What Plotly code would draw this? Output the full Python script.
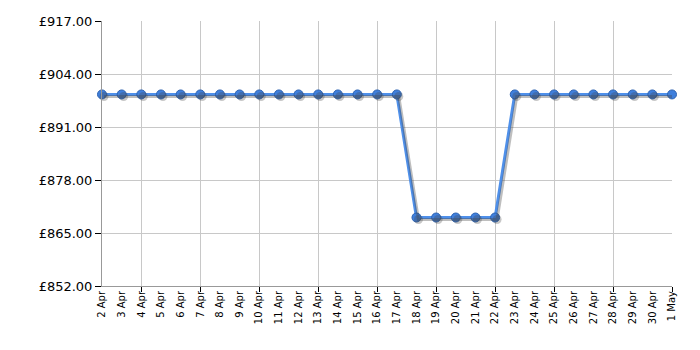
import plotly.graph_objects as go

dates = ["2 Apr", "3 Apr", "4 Apr", "5 Apr", "6 Apr", "7 Apr", "8 Apr", "9 Apr", "10 Apr",
         "11 Apr", "12 Apr", "13 Apr", "14 Apr", "15 Apr", "16 Apr", "17 Apr", "18 Apr",
         "19 Apr", "20 Apr", "21 Apr", "22 Apr", "23 Apr", "24 Apr", "25 Apr", "26 Apr",
         "27 Apr", "28 Apr", "29 Apr", "30 Apr", "1 May"]
prices = [898.99] * 16 + [868.80] * 5 + [898.99] * 9
y_ticks = [852, 865, 878, 891, 904, 917]

idx = list(range(len(dates)))
grid_idx = idx[2::3]

fig = go.Figure()
# shadow
fig.add_trace(go.Scatter(
    x=[i + 0.1 for i in idx], y=[p - 0.5 for p in prices], mode="lines+markers",
    line=dict(color="rgba(70,70,70,0.35)", width=3),
    marker=dict(size=9, color="rgba(70,70,70,0.3)"),
    hoverinfo="skip", cliponaxis=False, showlegend=False, xaxis="x2"))
fig.add_trace(go.Scatter(
    x=idx, y=prices, mode="lines+markers",
    line=dict(color="#4f90ea", width=3),
    marker=dict(size=9, color="#3f7fdc", line=dict(color="#2d62b0", width=1)),
    cliponaxis=False, showlegend=False))

fig.update_layout(
    width=700, height=350,
    margin=dict(l=102, r=28, t=21, b=64),
    paper_bgcolor="white", plot_bgcolor="white",
    font=dict(family="DejaVu Sans, Verdana, sans-serif", color="#000"),
    xaxis=dict(
        range=[0, len(dates) - 1], tickmode="array", tickvals=idx, ticktext=dates,
        tickangle=-90, tickfont=dict(size=10), showgrid=False, ticks="",
        showline=True, linecolor="#999", linewidth=1, zeroline=False,
    ),
    xaxis2=dict(
        overlaying="x", side="bottom", anchor="y",
        range=[0, len(dates) - 1], tickmode="array", tickvals=grid_idx,
        showticklabels=False, showgrid=True, gridcolor="#c8c8c8", gridwidth=1,
        ticks="outside", ticklen=5, tickcolor="#000", zeroline=False, showline=False,
    ),
    yaxis=dict(
        range=[852, 917], tickmode="array", tickvals=y_ticks,
        ticktext=["£%.2f" % v for v in y_ticks], tickfont=dict(size=13),
        showgrid=True, gridcolor="#c8c8c8", ticks="outside", ticklen=6, tickcolor="#000",
        showline=True, linecolor="#999", zeroline=False,
    ),
)

fig.write_html("out.html")
